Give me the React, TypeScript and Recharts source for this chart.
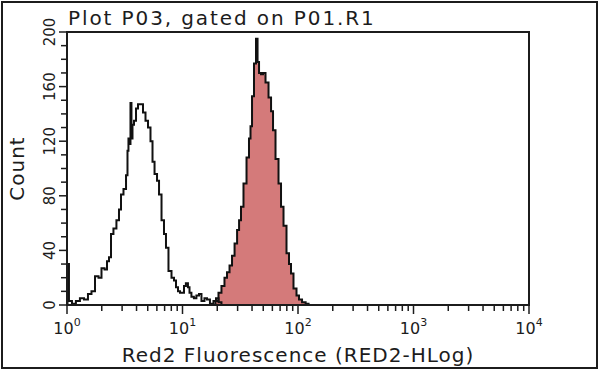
import React from 'react';
import { ComposedChart, Line, Area, XAxis, YAxis, ReferenceArea } from 'recharts';

// Unstained control histogram (fluorescence, count) - open outline
const controlX = [
  1.0, 1.02, 1.06, 1.15, 1.24, 1.35, 1.46, 1.58, 1.68, 1.82, 1.93, 2.05, 2.18, 2.26, 2.36, 2.45,
  2.6, 2.76, 2.88, 2.99, 3.18, 3.31, 3.37, 3.44, 3.51, 3.58, 3.65, 3.73, 3.88, 4.04, 4.2, 4.46,
  4.64, 4.93, 5.13, 5.44, 5.56, 5.9, 6.14, 6.39, 6.78, 7.05, 7.34, 7.79, 8.28, 8.61, 8.96, 9.33,
  9.7, 10.1, 10.5, 10.9, 11.4, 11.6, 12.3, 12.8, 13.6, 14.2, 15.0, 16.0, 16.6, 18.0, 19.1, 19.9,
  21.1, 22.4, 25.8,
];
const controlCount = [
  0, 30, 3, 1, 3, 5, 4, 8, 10, 21, 20, 27, 26, 32, 35, 52,
  56, 62, 70, 81, 85, 95, 113, 122, 118, 148, 122, 132, 135, 144, 147, 147,
  141, 135, 130, 120, 105, 96, 91, 81, 62, 52, 42, 25, 20, 18, 13, 10,
  9, 9, 14, 16, 13, 9, 6, 5, 7, 8, 3, 5, 4, 1, 3, 5,
  2, 0, 0,
];

// Stained sample histogram - filled
const stainedX = [
  18.7, 19.9, 21.1, 22.4, 23.8, 24.8, 26.3, 27.4, 29.1, 30.3, 31.5, 32.7, 34.8, 36.9, 38.4, 39.2,
  40.8, 42.4, 44.2, 45.1, 46.9, 48.8, 50.8, 53.9, 57.3, 59.6, 62.0, 65.8, 69.9, 72.7, 77.2, 81.9,
  85.3, 88.7, 94.2, 100, 104, 113, 120, 127,
];
const stainedCount = [
  0, 3, 9, 14, 20, 24, 29, 36, 45, 55, 62, 72, 89, 108, 122, 131,
  153, 177, 195, 178, 170, 169, 170, 163, 152, 142, 128, 107, 89, 72, 58, 38,
  30, 23, 12, 7, 4, 2, 1, 0,
];

const xDecades = [1, 10, 100, 1000, 10000];
const xExponents = ['0', '1', '2', '3', '4'];
const yTicks = [0, 10, 20, 30, 40, 50, 60, 70, 80, 90, 100, 110, 120, 130, 140, 150, 160, 170, 180, 190, 200];
const yLabels = [0, 40, 80, 120, 160, 200];

const controlData = controlX.map((x, i) => ({ x, count: controlCount[i] }));
const stainedData = stainedX.map((x, i) => ({ x, count: stainedCount[i] }));

// minor ticks 2..9 inside every decade
const xTicks: number[] = [];
xDecades.forEach((d, i) => {
  xTicks.push(d);
  if (i < xDecades.length - 1) {
    for (let m = 2; m <= 9; m++) xTicks.push(d * m);
  }
});

const FONT = '"DejaVu Sans", Verdana, sans-serif';
const INK = '#1c1c1c';

const XTick = (props: any) => {
  const { x, y, payload } = props;
  const idx = xDecades.indexOf(payload.value);
  const major = idx >= 0;
  return (
    <g>
      <line x1={x} x2={x} y1={y} y2={y + (major ? 9 : 6)} stroke={INK} strokeWidth={1.5} />
      {major && (
        <text x={x} y={y + 29} textAnchor="middle" fill={INK} fontFamily={FONT} fontSize={16}>
          <tspan>10</tspan>
          <tspan dy={-8} fontSize={11}>{xExponents[idx]}</tspan>
        </text>
      )}
    </g>
  );
};

const YTick = (props: any) => {
  const { x, y, payload } = props;
  const major = yLabels.includes(payload.value);
  return (
    <g>
      <line x1={x - (major ? 8 : 6)} x2={x} y1={y} y2={y} stroke={INK} strokeWidth={1.5} />
      {major && (
        <text
          x={50}
          y={y}
          transform={`rotate(-90, 50, ${y})`}
          textAnchor="middle"
          dominantBaseline="central"
          fill={INK}
          fontFamily={FONT}
          fontSize={15}
        >
          {payload.value}
        </text>
      )}
    </g>
  );
};

const App: React.FC = () => {
  return (
    <div style={{ position: 'absolute', left: 0, top: 0, width: 600, height: 372, background: '#fff' }}>
      <ComposedChart width={600} height={372} margin={{ top: 32, right: 71, bottom: 0, left: 0 }}>
        <XAxis
          dataKey="x"
          type="number"
          scale="log"
          domain={[1, 10000]}
          allowDataOverflow
          ticks={xTicks}
          interval={0}
          tickSize={0}
          tickMargin={0}
          tick={<XTick />}
          height={67}
          axisLine={{ stroke: INK, strokeWidth: 2 }}
          label={{
            value: 'Red2 Fluorescence (RED2-HLog)',
            position: 'insideBottom',
            offset: 10,
            fill: INK,
            fontSize: 20,
            fontFamily: FONT,
            style: { letterSpacing: 1 },
          }}
        />
        <YAxis
          type="number"
          domain={[0, 200]}
          allowDataOverflow
          ticks={yTicks}
          interval={0}
          tickSize={0}
          tickMargin={0}
          tick={<YTick />}
          width={67}
          axisLine={{ stroke: INK, strokeWidth: 2 }}
          label={{
            value: 'Count',
            angle: -90,
            position: 'insideLeft',
            offset: 17,
            fill: INK,
            fontSize: 20,
            fontFamily: FONT,
            style: { textAnchor: 'middle', letterSpacing: 1 },
          }}
        />
        <ReferenceArea x1={1} x2={10000} y1={0} y2={200} fill="none" stroke={INK} strokeWidth={2} />
        <Area
          data={stainedData}
          dataKey="count"
          type="step"
          baseValue={0}
          stroke="#111"
          strokeWidth={2}
          fill="#d47a7a"
          fillOpacity={1}
          dot={false}
          activeDot={false}
          isAnimationActive={false}
        />
        <Line
          data={controlData}
          dataKey="count"
          type="step"
          stroke="#111"
          strokeWidth={2}
          dot={false}
          activeDot={false}
          isAnimationActive={false}
        />
      </ComposedChart>
      <svg width={600} height={372} style={{ position: 'absolute', left: 0, top: 0, pointerEvents: 'none' }}>
        <text x={68} y={25} fill={INK} fontFamily={FONT} fontSize={20} style={{ letterSpacing: 1.9 }}>
          Plot P03, gated on P01.R1
        </text>
        <rect x={2} y={2} width={595} height={366} fill="none" stroke={INK} strokeWidth={2} />
      </svg>
    </div>
  );
};

export default App;
